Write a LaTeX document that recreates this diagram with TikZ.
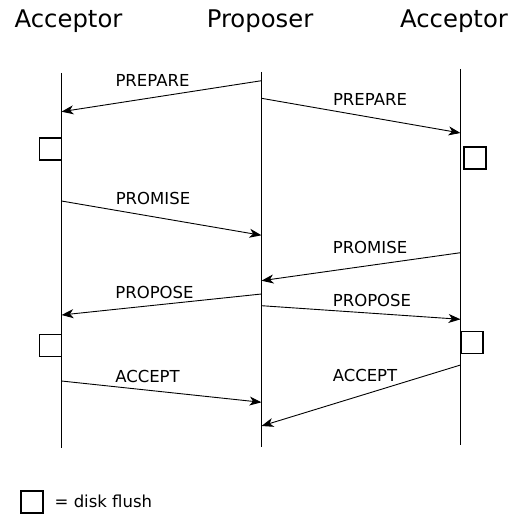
\documentclass[tikz,border=0pt]{standalone}
\usepackage{fontspec}
\setmainfont{DejaVu Sans}
\usetikzlibrary{arrows.meta}
\tikzset{
	rolestyle/.style={font=\fontsize{24.3}{28}\selectfont,anchor=base,inner sep=0pt},
	msglabelstyle/.style={font=\fontsize{16.5}{19}\selectfont,anchor=base,inner sep=0pt},
	linestyle/.style={draw=black,line width=1.5pt},
	msgstyle/.style={draw=black,line width=0.9pt,-{Stealth[length=12pt,width=9pt,inset=3.5pt]}},
	flushstyle/.style={rectangle,draw=black,line width=1.4pt,minimum width=22pt,minimum height=22pt,inner sep=0pt}
}

\begin{document}
\begin{tikzpicture}[x=1pt,y=-1pt]
		\useasboundingbox (0,0) rectangle (512,516);
		\node[rolestyle] (accl) at (68.5,27.3) {Acceptor};
		\node[rolestyle] (prop) at (260,27.3) {Proposer};
		\node[rolestyle] (accr) at (454,27.3) {Acceptor};
		% lifelines
		\coordinate (lt) at (61.5,73);
		\coordinate (lb) at (61.5,448);
		\coordinate (mt) at (261.5,72);
		\coordinate (mb) at (261.5,447);
		\coordinate (rt) at (460.5,69);
		\coordinate (rb) at (460.5,445);
		\draw[linestyle] (lt)--(lb);
		\draw[linestyle] (mt)--(mb);
		\draw[linestyle] (rt)--(rb);
		% message ends
		\coordinate (m1) at (261.5,80.7);
		\coordinate (l1) at (61.5,111.7);
		\coordinate (m2) at (261.5,98.3);
		\coordinate (r2) at (460.5,133);
		\coordinate (l3) at (61.5,201);
		\coordinate (m3) at (261.5,235.3);
		\coordinate (r4) at (460.5,252.7);
		\coordinate (m4) at (261.5,280.7);
		\coordinate (m5) at (261.5,294);
		\coordinate (l5) at (61.5,315);
		\coordinate (m6) at (261.5,305.7);
		\coordinate (r6) at (460.5,319.3);
		\coordinate (l7) at (61.5,381);
		\coordinate (m7) at (261.5,402.3);
		\coordinate (r8) at (460.5,365);
		\coordinate (m8) at (261.5,426);
		\draw[msgstyle] (m1)--(l1);
		\draw[msgstyle] (m2)--(r2);
		\draw[msgstyle] (l3)--(m3);
		\draw[msgstyle] (r4)--(m4);
		\draw[msgstyle] (m5)--(l5);
		\draw[msgstyle] (m6)--(r6);
		\draw[msgstyle] (l7)--(m7);
		\draw[msgstyle] (r8)--(m8);
		\node[msglabelstyle] (t1) at (152.5,87) {PREPARE};
		\node[msglabelstyle] (t2) at (370,105.5) {PREPARE};
		\node[msglabelstyle] (t3) at (153,204) {PROMISE};
		\node[msglabelstyle] (t4) at (370,253) {PROMISE};
		\node[msglabelstyle] (t5) at (154.5,298) {PROPOSE};
		\node[msglabelstyle] (t6) at (372,306) {PROPOSE};
		\node[msglabelstyle] (t7) at (147.5,382) {ACCEPT};
		\node[msglabelstyle] (t8) at (365,381.7) {ACCEPT};
		% disk flushes
		\node[flushstyle] (f1) at (50.5,149) {};
		\node[flushstyle] (f2) at (475,158) {};
		\node[flushstyle] (f3) at (50.5,345.5) {};
		\node[flushstyle] (f4) at (472,342.5) {};
		\node[flushstyle] (key) at (32,502) {};
		\node[msglabelstyle,anchor=base west] (keytext) at (54.5,507) {= disk flush};
		\end{tikzpicture}
\end{document}
